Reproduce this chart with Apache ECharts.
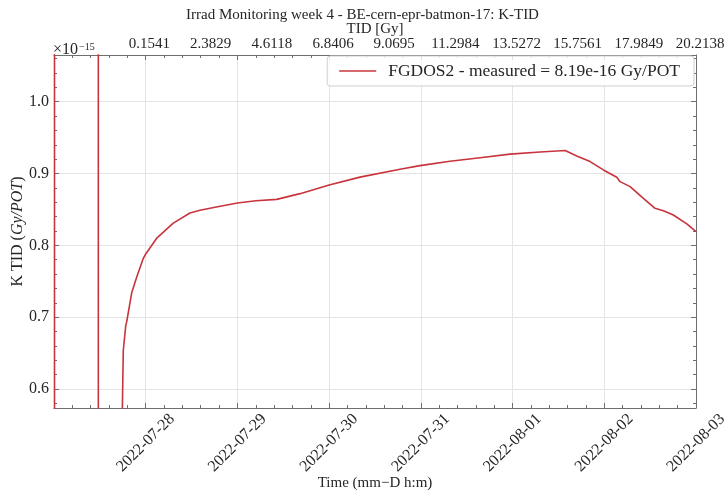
<!DOCTYPE html>
<html>
<head>
<meta charset="utf-8">
<script src="https://cdn.jsdelivr.net/npm/echarts@6/dist/echarts.min.js"></script>
<style>html,body{margin:0;padding:0;background:#fff;}#c{width:725px;height:499px;}</style>
</head>
<body>
<div id="c"></div>
<script>
// ---- data ----
const times = [
  '2022-07-27 00:08', '2022-07-27 00:08', '2022-07-27 11:36', '2022-07-27 11:36',
  '2022-07-27 17:40', '2022-07-27 18:08', '2022-07-27 18:46', '2022-07-27 18:50',
  '2022-07-27 19:02', '2022-07-27 20:20', '2022-07-27 21:39', '2022-07-27 23:22',
  '2022-07-28 00:00', '2022-07-28 02:53', '2022-07-28 07:13', '2022-07-28 11:35',
  '2022-07-28 14:13', '2022-07-28 18:08', '2022-07-29 00:00', '2022-07-29 04:52',
  '2022-07-29 10:17', '2022-07-29 16:24', '2022-07-30 00:00', '2022-07-30 08:05',
  '2022-07-30 18:33', '2022-07-30 23:47', '2022-07-31 07:38', '2022-07-31 15:30',
  '2022-07-31 23:21', '2022-08-01 07:12', '2022-08-01 13:45', '2022-08-01 16:48',
  '2022-08-01 20:17', '2022-08-01 23:46', '2022-08-02 03:16', '2022-08-02 04:08',
  '2022-08-02 06:45', '2022-08-02 10:14', '2022-08-02 13:17', '2022-08-02 15:28',
  '2022-08-02 18:04', '2022-08-02 21:36', '2022-08-03 00:00'
];
const kTid = [
  0.40, 1.20, 1.20, 0.40,
  0.50, 0.654, 0.688, 0.690,
  0.694, 0.734, 0.756, 0.782,
  0.788, 0.810, 0.831, 0.845,
  0.849, 0.853, 0.859, 0.862,
  0.864, 0.872, 0.884, 0.895,
  0.906, 0.911, 0.917, 0.922,
  0.927, 0.930, 0.932, 0.9245,
  0.9166, 0.905, 0.8948, 0.8887,
  0.8818, 0.8655, 0.8516, 0.8482,
  0.8423, 0.8298, 0.819
];
const tidTicks = [0.1541, 2.3829, 4.6118, 6.8406, 9.0695, 11.2984, 13.5272, 15.7561, 17.9849, 20.2138];
const seriesName = 'FGDOS2 - measured = 8.19e-16 Gy/POT';
const titleText = 'Irrad Monitoring week 4 - BE-cern-epr-batmon-17: K-TID';

// ---- axis ranges ----
const xMin = Date.UTC(2022, 6, 27);
const xMax = Date.UTC(2022, 7, 3);
const DAY = 86400000;
const yMin = 0.5736, yMax = 1.065;
const tidMin = -3.3256, tidMax = 20.7593;

const toMs = s => Date.parse(s.replace(' ', 'T') + ':00Z');
const data = times.map((t, i) => [toMs(t), kTid[i]]);

const FONT = 'Liberation Serif';
const TXT = '#262626';
const AX = '#6e6e6e';
const GRID = '#e4e4e4';
const RED = '#c8343d';

const chart = echarts.init(document.getElementById('c'), null, {renderer: 'canvas'});
const common = {fontFamily: FONT, color: TXT, fontSize: 15};

chart.setOption({
  animation: false,
  backgroundColor: '#fff',
  textStyle: {fontFamily: FONT},
  title: {
    text: titleText, left: 'center', top: 3,
    textStyle: {fontFamily: FONT, fontWeight: 'normal', fontSize: 15, color: TXT}
  },
  legend: {
    data: [{name: seriesName, icon: 'rect'}], top: 56, right: 31,
    itemWidth: 37, itemHeight: 1.6,
    padding: [6, 14, 6, 12],
    borderColor: '#cfcfcf', borderWidth: 1, borderRadius: 3,
    backgroundColor: 'rgba(255,255,255,0.8)',
    textStyle: {fontFamily: FONT, fontSize: 17.5, color: TXT, padding: [0, 0, 0, 7]}
  },
  graphic: [{
    type: 'text', left: 53, top: 42,
    style: {
      text: '{a|×10}{b|−15}',
      rich: {
        a: {fontFamily: FONT, fontSize: 16, fill: TXT},
        b: {fontFamily: FONT, fontSize: 10, fill: TXT, verticalAlign: 'top', padding: [0, 0, 6, 1]}
      }
    }
  }],
  grid: [
    {left: 54, right: 29, top: 55, bottom: 91, outerBoundsMode: 'none', containLabel: false},
    {left: 54, right: 10, top: 55, bottom: 91, outerBoundsMode: 'none', containLabel: false}
  ],
  xAxis: [
    {
      type: 'value', gridIndex: 0, position: 'bottom',
      min: xMin, max: xMax, interval: DAY,
      name: 'Time (mm−D h:m)', nameLocation: 'middle', nameGap: 75, nameMoveOverlap: false,
      nameTextStyle: Object.assign({verticalAlign: 'middle'}, common),
      axisLine: {show: true, lineStyle: {color: AX, width: 1}},
      axisTick: {show: true, inside: true, length: 5, lineStyle: {color: AX}},
      minorTick: {show: true, splitNumber: 5, length: 3, lineStyle: {color: AX}},
      splitLine: {show: true, lineStyle: {color: GRID, width: 1}},
      axisLabel: Object.assign({}, common, {
        fontSize: 16,
        rotate: 45, align: 'center', verticalAlign: 'middle', margin: 35,
        showMinLabel: false,
        formatter: v => new Date(v).toISOString().slice(0, 10)
      })
    },
    {
      type: 'value', gridIndex: 0, position: 'top',
      min: xMin, max: xMax, interval: DAY,
      name: 'TID [Gy]', nameLocation: 'middle', nameGap: 26, nameMoveOverlap: false,
      nameTextStyle: Object.assign({verticalAlign: 'middle'}, common),
      axisLine: {show: true, lineStyle: {color: AX, width: 1}},
      axisTick: {show: true, inside: true, length: 5, lineStyle: {color: AX}},
      minorTick: {show: true, splitNumber: 5, length: 3, lineStyle: {color: AX}},
      splitLine: {show: false},
      axisLabel: {show: false}
    },
    {
      type: 'value', gridIndex: 1, position: 'top',
      min: tidMin, max: tidMax,
      axisLine: {show: false}, axisTick: {show: false}, splitLine: {show: false},
      axisLabel: Object.assign({
        customValues: tidTicks, margin: 3,
        formatter: v => v.toFixed(4)
      }, common)
    }
  ],
  yAxis: [
    {
      type: 'value', gridIndex: 0, position: 'left',
      min: yMin, max: yMax, splitNumber: 5,
      name: '{n|K TID (}{i|Gy/POT}{n|)}', nameLocation: 'middle', nameGap: 36, nameMoveOverlap: false,
      nameTextStyle: {
        verticalAlign: 'middle', fontFamily: FONT, fontSize: 16, color: TXT,
        rich: {
          n: {fontFamily: FONT, fontSize: 16, color: TXT},
          i: {fontFamily: FONT, fontSize: 16, color: TXT, fontStyle: 'italic'}
        }
      },
      axisLine: {show: true, lineStyle: {color: AX, width: 1}},
      axisTick: {show: true, inside: true, length: 5, lineStyle: {color: AX}},
      minorTick: {show: true, splitNumber: 5, length: 3, lineStyle: {color: AX}},
      splitLine: {show: true, lineStyle: {color: GRID, width: 1}},
      axisLabel: Object.assign({}, common, {
        fontSize: 16,
        margin: 5, showMinLabel: false, showMaxLabel: false,
        formatter: v => v.toFixed(1)
      })
    },
    {
      type: 'value', gridIndex: 0, position: 'right',
      min: yMin, max: yMax, splitNumber: 5,
      axisLine: {show: true, lineStyle: {color: AX, width: 1}},
      axisTick: {show: true, inside: true, length: 5, lineStyle: {color: AX}},
      minorTick: {show: true, splitNumber: 5, length: 3, lineStyle: {color: AX}},
      splitLine: {show: false},
      axisLabel: {show: false}
    },
    {
      type: 'value', gridIndex: 1, min: 0, max: 1, show: false
    }
  ],
  series: [{
    name: seriesName,
    type: 'line',
    xAxisIndex: 0, yAxisIndex: 0,
    data: data,
    symbol: 'none',
    clip: true,
    lineStyle: {color: RED, width: 1.6},
    itemStyle: {color: RED}
  }]
});
</script>
</body>
</html>
